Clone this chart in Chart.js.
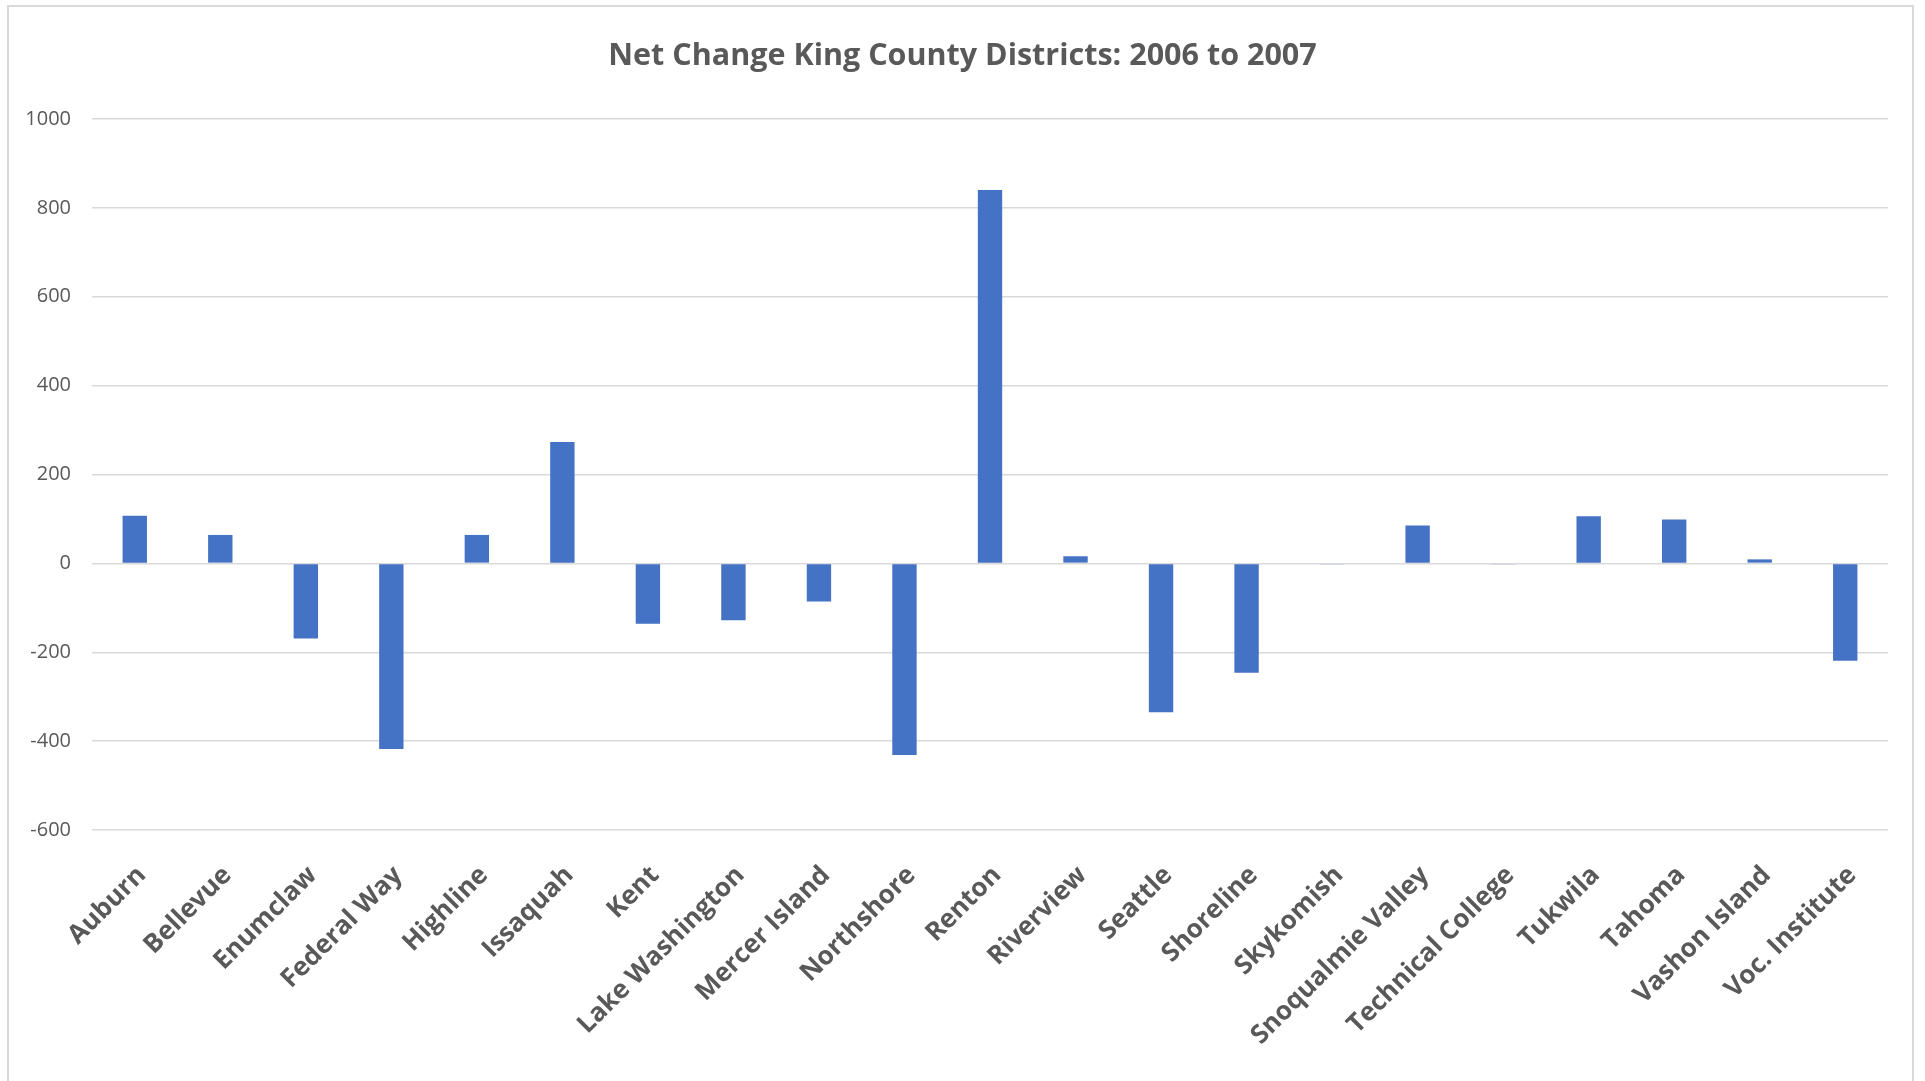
<!DOCTYPE html>
<html>
<head>
<meta charset="utf-8">
<script src="https://cdn.jsdelivr.net/npm/chart.js@4"></script>
<style>
  html, body { margin: 0; padding: 0; background: #ffffff; overflow: hidden; }
  #wrap { position: relative; width: 1925px; height: 1081px; }
  #c { position: absolute; left: 0; top: 0; }
  #frame { position: absolute; left: 7px; top: 5px; width: 1907px; height: 1200px;
           border: 2px solid #d9d9d9; box-sizing: border-box; pointer-events: none; }
</style>
</head>
<body>
<div id="wrap">
  <canvas id="c" width="1925" height="1081"></canvas>
  <div id="frame"></div>
</div>
<script>
const chartTitle = 'Net Change King County Districts: 2006 to 2007';
const districts = ['Auburn', 'Bellevue', 'Enumclaw', 'Federal Way', 'Highline', 'Issaquah', 'Kent',
  'Lake Washington', 'Mercer Island', 'Northshore', 'Renton', 'Riverview', 'Seattle', 'Shoreline',
  'Skykomish', 'Snoqualmie Valley', 'Technical College', 'Tukwila', 'Tahoma', 'Vashon Island', 'Voc. Institute'];
const netChange = [107, 64, -169, -418, 64, 273, -136, -128, -86, -431, 840, 16, -335, -246,
  -2, 85, -2, 106, 99, 9, -219];
const yMin = -600;
const yMax = 1000;
const yStep = 200;

const titlePlugin = {
  id: 'centeredTitle',
  afterDraw(chart) {
    const ctx = chart.ctx;
    ctx.save();
    ctx.fillStyle = '#595959';
    ctx.font = 'bold 30.5px "Open Sans"';
    ctx.textAlign = 'center';
    ctx.textBaseline = 'middle';
    ctx.fillText(chartTitle, chart.width / 2, 56);
    ctx.restore();
  }
};

new Chart(document.getElementById('c'), {
  type: 'bar',
  data: {
    labels: districts,
    datasets: [{
      data: netChange,
      backgroundColor: '#4472C4',
      borderWidth: 0,
      categoryPercentage: 1.0,
      barPercentage: 0.285
    }]
  },
  options: {
    responsive: false,
    devicePixelRatio: 1,
    animation: false,
    layout: { padding: { left: 0, right: 37, top: 119, bottom: 0 } },
    plugins: {
      legend: { display: false },
      tooltip: { enabled: false },
      title: { display: false }
    },
    scales: {
      x: {
        grid: { display: false, drawTicks: false },
        border: { display: false },
        ticks: {
          color: '#595959',
          font: { family: 'Open Sans', size: 26, weight: 'bold' },
          minRotation: 45,
          maxRotation: 45,
          autoSkip: false,
          padding: 30,
          labelOffset: 7
        },
        afterFit: (s) => { s.height = 251; }
      },
      y: {
        min: yMin,
        max: yMax,
        grid: { color: '#d9d9d9', lineWidth: 1.5, drawTicks: false },
        border: { display: false },
        ticks: {
          stepSize: yStep,
          color: '#595959',
          font: { family: 'Open Sans', size: 20 },
          padding: 21,
          callback: (v) => String(v)
        },
        afterFit: (s) => { s.width = 92; }
      }
    }
  },
  plugins: [titlePlugin]
});
</script>
</body>
</html>
